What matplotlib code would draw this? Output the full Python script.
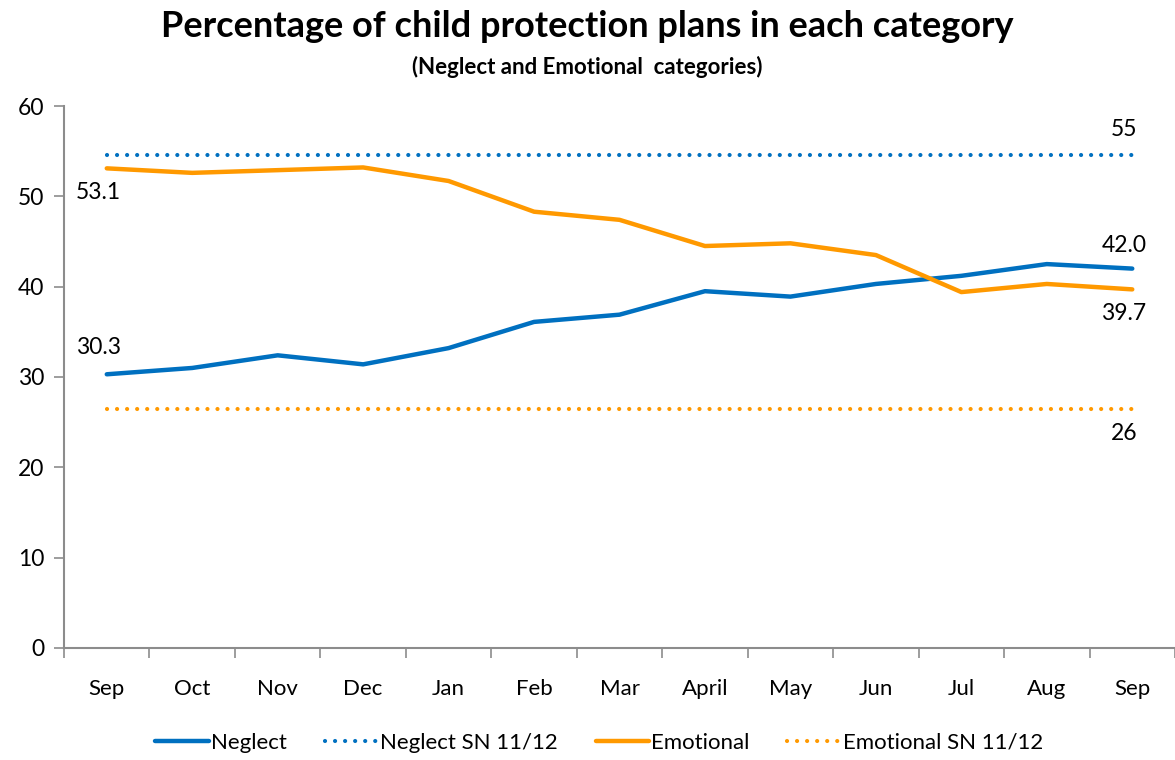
import matplotlib
matplotlib.use('Agg')
import matplotlib.pyplot as plt
import numpy as np

plt.rcParams['font.family'] = ['Lato', 'DejaVu Sans']

months = ['Sep', 'Oct', 'Nov', 'Dec', 'Jan', 'Feb', 'Mar', 'April', 'May', 'Jun', 'Jul', 'Aug', 'Sep']
neglect = [30.3, 31.0, 32.4, 31.4, 33.2, 36.1, 36.9, 39.5, 38.9, 40.3, 41.2, 42.5, 42.0]
emotional = [53.1, 52.6, 52.9, 53.2, 51.7, 48.3, 47.4, 44.5, 44.8, 43.5, 39.4, 40.3, 39.7]
neglect_sn = 54.6
emotional_sn = 26.5

blue = '#0070C0'
orange = '#FF9900'
grey = '#8c8c8c'

x = np.arange(len(months))

fig = plt.figure(figsize=(11.75, 7.6), dpi=100)
ax = fig.add_axes([0.0545, 0.1474, 0.9455, 0.7131])

ax.plot(x, neglect, color=blue, lw=3.2, label='Neglect', solid_capstyle='round')
ax.plot(x, [neglect_sn] * len(x), color=blue, lw=3, ls=(0, (0.01, 2.4)),
        dash_capstyle='round', label='Neglect SN 11/12')
ax.plot(x, emotional, color=orange, lw=3.2, label='Emotional', solid_capstyle='round')
ax.plot(x, [emotional_sn] * len(x), color=orange, lw=3, ls=(0, (0.01, 2.4)),
        dash_capstyle='round', label='Emotional SN 11/12')

# data labels
fs = 16.5
ax.annotate(f'{neglect[0]:.1f}', (x[0], neglect[0]), xytext=(-6, 12), textcoords='offset points',
            ha='center', va='bottom', fontsize=fs)
ax.annotate(f'{emotional[0]:.1f}', (x[0], emotional[0]), xytext=(-6, -10), textcoords='offset points',
            ha='center', va='top', fontsize=fs)
ax.annotate(f'{neglect[-1]:.1f}', (x[-1], neglect[-1]), xytext=(-6, 9), textcoords='offset points',
            ha='center', va='bottom', fontsize=fs)
ax.annotate(f'{emotional[-1]:.1f}', (x[-1], emotional[-1]), xytext=(-6, -10), textcoords='offset points',
            ha='center', va='top', fontsize=fs)
ax.annotate(f'{neglect_sn:.0f}', (x[-1], neglect_sn), xytext=(-6, 11), textcoords='offset points',
            ha='center', va='bottom', fontsize=fs)
ax.annotate(f'{emotional_sn:.0f}', (x[-1], emotional_sn), xytext=(-6, -10), textcoords='offset points',
            ha='center', va='top', fontsize=fs)

ax.set_xlim(-0.5, len(x) - 0.5)
ax.set_ylim(0, 60)
ax.set_yticks(range(0, 61, 10))
ax.set_xticks(x)
ax.set_xticklabels(months, fontsize=16)
ax.set_xticks(np.arange(-0.5, len(x), 1), minor=True)
ax.tick_params(axis='x', which='major', length=0, pad=22)
ax.tick_params(axis='x', which='minor', length=7, color=grey, width=1.2)
ax.tick_params(axis='y', labelsize=16.5, length=7, color=grey, width=1.2, pad=7)

for s in ['top', 'right']:
    ax.spines[s].set_visible(False)
for s in ['left', 'bottom']:
    ax.spines[s].set_color(grey)
    ax.spines[s].set_linewidth(1.5)

fig.text(0.5, 0.965, 'Percentage of child protection plans in each category',
         ha='center', va='center', fontsize=26, fontweight='bold')
fig.text(0.5, 0.912, '(Neglect and Emotional  categories)',
         ha='center', va='center', fontsize=16, fontweight='bold')

fig.legend(loc='center', bbox_to_anchor=(0.51, 0.023), ncol=4, frameon=False,
           fontsize=16, handlelength=2.4, handletextpad=0.1, columnspacing=1.7)

fig.savefig('out.png', dpi=100)
